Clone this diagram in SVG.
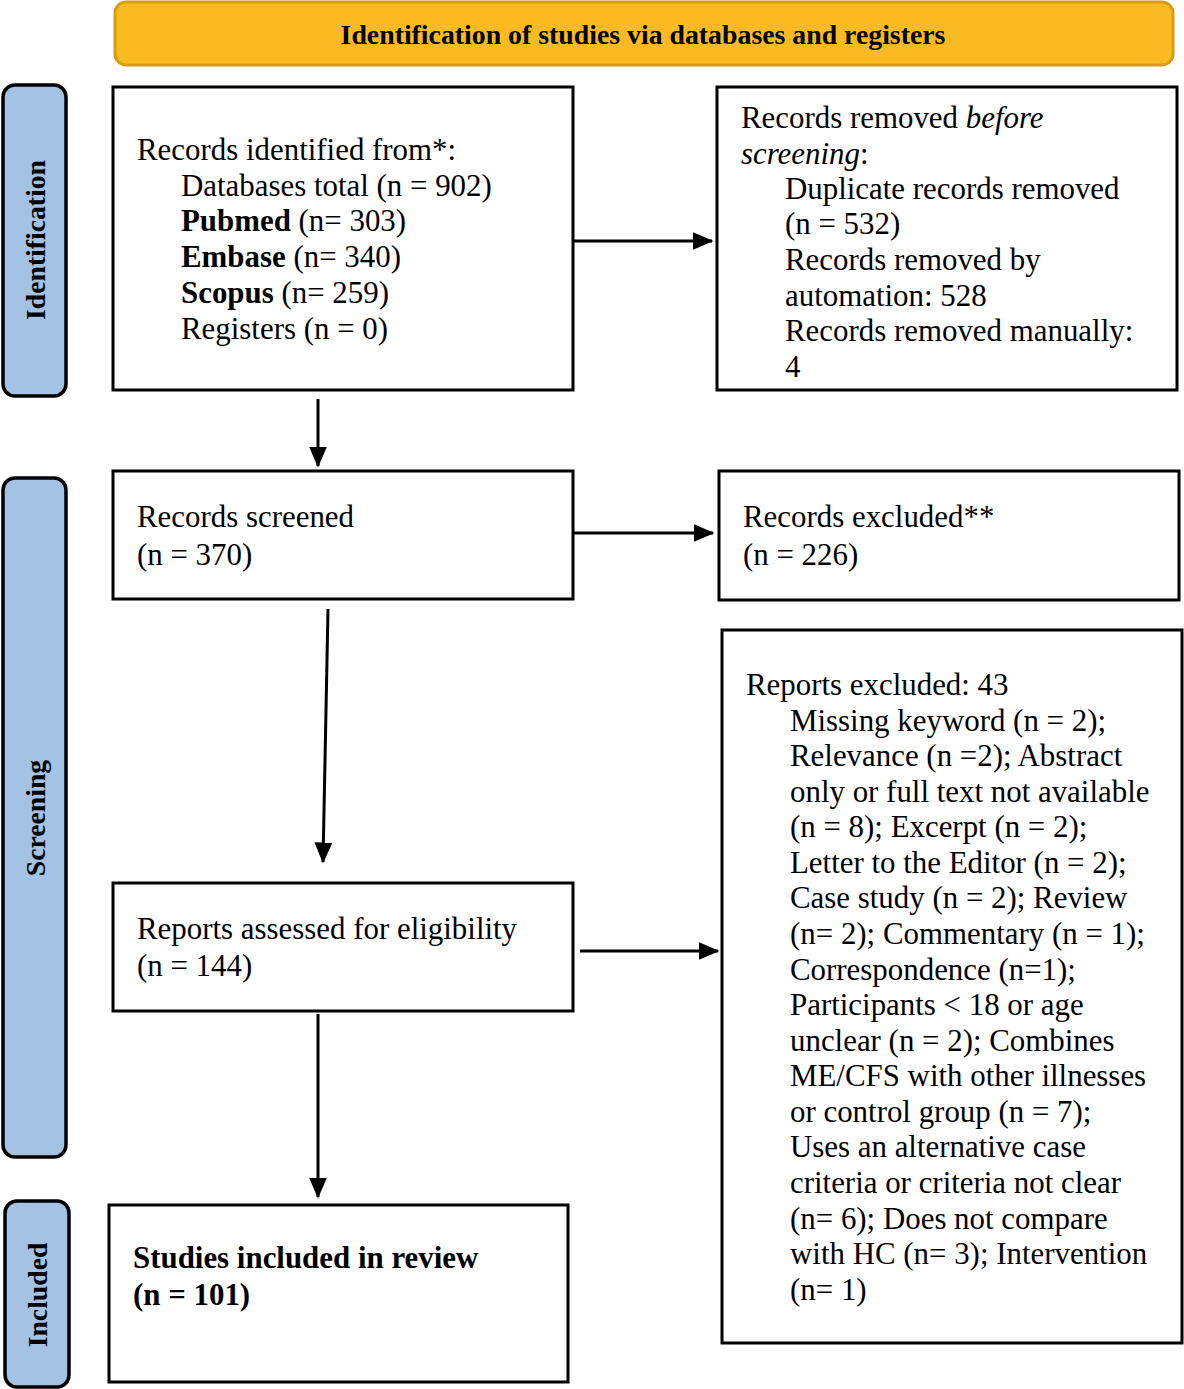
<svg xmlns="http://www.w3.org/2000/svg" width="1184" height="1389" viewBox="0 0 1184 1389">
<style>
.box{fill:#fff;stroke:#000;stroke-width:3}
.side{fill:#A3C2E4;stroke:#000;stroke-width:3.5}
.t{font-family:"Liberation Serif","Times New Roman",serif;font-size:30.9px;fill:#000}
.b{font-weight:bold}
.side-t{font-family:"Liberation Serif","Times New Roman",serif;font-size:27.7px;font-weight:bold;fill:#000}
.hdr-t{font-family:"Liberation Serif","Times New Roman",serif;font-size:27.8px;font-weight:bold;fill:#000}
.c{stroke:#000;stroke-width:3;fill:none;marker-end:url(#ah)}
</style>
<defs>
<marker id="ah" markerWidth="7" markerHeight="6" refX="6.5" refY="3" orient="auto" markerUnits="strokeWidth">
<path d="M0,0 L7,3 L0,6 Z" fill="#000"/>
</marker>
</defs>
<rect width="1184" height="1389" fill="#fff"/>
<g id="header">
<rect x="115" y="2" width="1058" height="63" rx="11" fill="#FBBA21" stroke="#D49E10" stroke-width="3"/>
<text class="hdr-t" x="643" y="44" text-anchor="middle">Identification of studies via databases and registers</text>
</g>
<g id="side-identification">
<rect class="side" x="3" y="85" width="63" height="311" rx="12"/>
<text class="side-t" transform="translate(45,240) rotate(-90)" text-anchor="middle">Identification</text>
</g>
<g id="side-screening">
<rect class="side" x="3" y="478" width="63" height="679" rx="12"/>
<text class="side-t" transform="translate(45,818) rotate(-90)" text-anchor="middle">Screening</text>
</g>
<g id="side-included">
<rect class="side" x="5" y="1201" width="64" height="186" rx="12"/>
<text class="side-t" transform="translate(47,1295) rotate(-90)" text-anchor="middle">Included</text>
</g>
<g id="records-identified">
<rect class="box" x="113" y="87" width="460" height="303"/>
<text class="t" x="137" y="160">Records identified from*:</text>
<text class="t" x="181" y="196">Databases total (n = 902)</text>
<text class="t" x="181" y="231"><tspan class="b">Pubmed</tspan> (n= 303)</text>
<text class="t" x="181" y="267"><tspan class="b">Embase</tspan> (n= 340)</text>
<text class="t" x="181" y="303"><tspan class="b">Scopus</tspan> (n= 259)</text>
<text class="t" x="181" y="339">Registers (n = 0)</text>
</g>
<g id="records-removed">
<rect class="box" x="717" y="87" width="460" height="303"/>
<text class="t" x="741" y="128">Records removed <tspan font-style="italic">before</tspan></text>
<text class="t" x="741" y="164"><tspan font-style="italic">screening</tspan>:</text>
<text class="t" x="785" y="199">Duplicate records removed</text>
<text class="t" x="785" y="234">(n = 532)</text>
<text class="t" x="785" y="270">Records removed by</text>
<text class="t" x="785" y="306">automation: 528</text>
<text class="t" x="785" y="341">Records removed manually:</text>
<text class="t" x="785" y="377">4</text>
</g>
<g id="records-screened">
<rect class="box" x="113" y="471" width="460" height="128"/>
<text class="t" x="137" y="527">Records screened</text>
<text class="t" x="137" y="565">(n = 370)</text>
</g>
<g id="records-excluded">
<rect class="box" x="719" y="471" width="460" height="129"/>
<text class="t" x="743" y="527">Records excluded**</text>
<text class="t" x="743" y="565">(n = 226)</text>
</g>
<g id="reports-excluded">
<rect class="box" x="722" y="630" width="460" height="713"/>
<text class="t" x="746" y="695">Reports excluded: 43</text>
<text class="t" x="790" y="731">Missing keyword (n = 2);</text>
<text class="t" x="790" y="766">Relevance (n =2); Abstract</text>
<text class="t" x="790" y="802">only or full text not available</text>
<text class="t" x="790" y="837">(n = 8); Excerpt (n = 2);</text>
<text class="t" x="790" y="873">Letter to the Editor (n = 2);</text>
<text class="t" x="790" y="908">Case study (n = 2); Review</text>
<text class="t" x="790" y="944">(n= 2); Commentary (n = 1);</text>
<text class="t" x="790" y="980">Correspondence (n=1);</text>
<text class="t" x="790" y="1015">Participants &lt; 18 or age</text>
<text class="t" x="790" y="1051">unclear (n = 2); Combines</text>
<text class="t" x="790" y="1086">ME/CFS with other illnesses</text>
<text class="t" x="790" y="1122">or control group (n = 7);</text>
<text class="t" x="790" y="1157">Uses an alternative case</text>
<text class="t" x="790" y="1193">criteria or criteria not clear</text>
<text class="t" x="790" y="1229">(n= 6); Does not compare</text>
<text class="t" x="790" y="1264">with HC (n= 3); Intervention</text>
<text class="t" x="790" y="1300">(n= 1)</text>
</g>
<g id="reports-assessed">
<rect class="box" x="113" y="883" width="460" height="128"/>
<text class="t" x="137" y="939">Reports assessed for eligibility</text>
<text class="t" x="137" y="976">(n = 144)</text>
</g>
<g id="studies-included">
<rect class="box" x="109" y="1205" width="459" height="177"/>
<text class="t b" x="133" y="1268">Studies included in review</text>
<text class="t b" x="133" y="1305">(n = 101)</text>
</g>
<g id="connectors">
<line class="c" x1="573" y1="241" x2="712" y2="241"/>
<line class="c" x1="318" y1="399" x2="318" y2="466"/>
<line class="c" x1="573" y1="533" x2="713" y2="533"/>
<line class="c" x1="328" y1="609" x2="323" y2="862"/>
<line class="c" x1="580" y1="951" x2="718" y2="951"/>
<line class="c" x1="318" y1="1014" x2="318" y2="1197"/>
</g>
</svg>
